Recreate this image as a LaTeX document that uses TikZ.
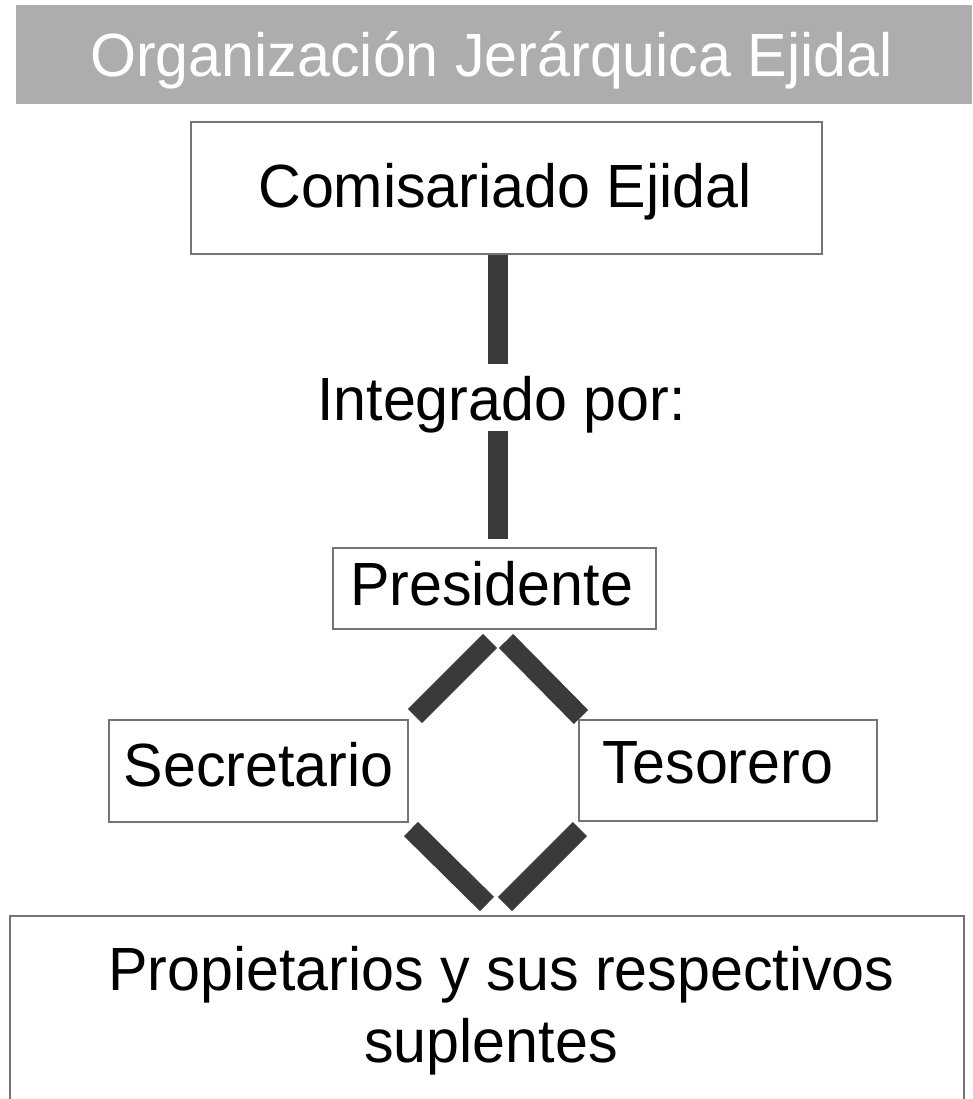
\documentclass[tikz,border=0pt]{standalone}
\usepackage{fontspec}
\setmainfont{Liberation Sans}[FakeStretch=0.97]
\usetikzlibrary{calc}
\definecolor{titlegray}{HTML}{ADADAD}
\definecolor{bargray}{HTML}{3A3A3A}
\definecolor{edgegray}{HTML}{747474}
\begin{document}
\begin{tikzpicture}[x=1pt,y=-1pt,
  box/.style={draw=edgegray,line width=2pt,fill=white,inner sep=0pt},
  lbl/.style={font=\fontsize{61}{70}\selectfont,inner sep=0pt,anchor=base},
  bar/.style={draw=bargray,line width=20pt,line cap=butt}]
\useasboundingbox (0,0) rectangle (972,1099);
\clip (0,0) rectangle (972,1099);
\fill[white] (0,0) rectangle (972,1099);
% title
\node[fill=titlegray,minimum width=956pt,minimum height=99pt,inner sep=0pt] (title) at (494,54.5) {};
\node[lbl,text=white] (titletext) at (491.5,77) {Organización Jerárquica Ejidal};
% boxes
\node[box,minimum width=631pt,minimum height=132pt] (com) at (506.5,188) {};
\node[lbl] (comtext) at (505,208) {Comisariado Ejidal};
\node[lbl] (integ) at (501.5,420) {Integrado por:};
\node[box,minimum width=323pt,minimum height=81pt] (pres) at (494.5,588.5) {};
\node[lbl] (prestext) at (491.5,605) {Presidente};
\node[box,minimum width=299pt,minimum height=102pt] (sec) at (258.5,771) {};
\node[lbl] (sectext) at (258.5,786) {Secretario};
\node[box,minimum width=298pt,minimum height=101pt] (tes) at (728,770.5) {};
\node[lbl] (testext) at (718,783) {Tesorero};
\node[box,minimum width=954pt,minimum height=204pt] (bot) at (487,1018) {};
\node[lbl] (bottext1) at (501.5,990) {Propietarios y sus respectivos};
\node[lbl] (bottext2) at (491,1062) {suplentes};
% connectors
\coordinate (v1) at (498,364);
\coordinate (v2) at (498,431);
\draw[bar] (com.south -| v1) -- (v1);
\draw[bar] (v2) -- ($(pres.north -| v2)+(0,-8)$);
\draw[bar] ($(pres.south)+(-4.5,11)$) -- ($(sec.north east)+(6,-3)$);
\draw[bar] ($(pres.south)+(11.5,11)$) -- ($(tes.north west)+(3,-2)$);
\draw[bar] ($(sec.south east)+(2,6)$) -- ($(bot.north)+(0,-11)$);
\draw[bar] ($(tes.south west)+(2,7)$) -- ($(bot.north)+(18,-11)$);
\end{tikzpicture}
\end{document}
